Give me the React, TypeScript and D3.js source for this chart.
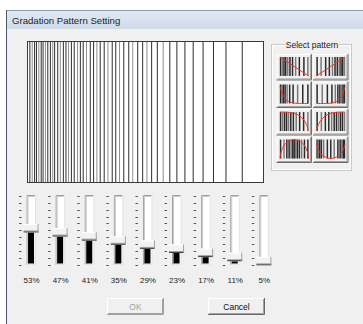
import React from 'react';
import * as d3 from 'd3';

// ---- data ----
const sliderValues = [53, 47, 41, 35, 29, 23, 17, 11, 5];
const sliderLabels = sliderValues.map((v) => `${v}%`);
const sliderTicks = [0, 10, 20, 30, 40, 50, 60, 70, 80, 90, 100];

// vertical lines of the gradation preview, position in % of the preview width
const patternLines = [
  0, 1.0, 2.0, 3.0, 3.8, 4.8, 5.8, 6.6, 7.6, 8.6, 9.7, 10.7, 11.5, 12.8, 13.9, 15.2, 16.3, 17.4,
  18.6, 19.8, 21.2, 22.4, 23.6, 25.0, 26.6, 28.0, 29.4, 30.8, 32.5, 34.1, 35.9, 37.4, 39.0, 40.8,
  42.9, 44.6, 46.7, 48.8, 50.6, 52.6, 55.0, 57.5, 60.3, 63.3, 66.7, 70.2, 74.4, 78.8, 84.1, 91.0, 100,
];

const patternNames = ['linearDown', 'linearUp', 'concaveDown', 'concaveUp', 'convexDown', 'convexUp', 'arch', 'bowl'];

// bar positions of each pattern icon (0..1 across the icon)
const iconBars: number[][] = [
  [0.02, 0.08, 0.14, 0.2, 0.27, 0.35, 0.44, 0.55, 0.68, 0.84, 0.98],
  [0.02, 0.16, 0.32, 0.45, 0.56, 0.65, 0.73, 0.8, 0.86, 0.92, 0.98],
  [0.02, 0.07, 0.12, 0.18, 0.25, 0.34, 0.46, 0.62, 0.8, 0.98],
  [0.02, 0.2, 0.38, 0.54, 0.66, 0.75, 0.82, 0.88, 0.93, 0.98],
  [0.02, 0.09, 0.16, 0.23, 0.3, 0.38, 0.47, 0.57, 0.69, 0.83, 0.98],
  [0.02, 0.17, 0.31, 0.43, 0.53, 0.62, 0.7, 0.77, 0.84, 0.91, 0.98],
  [0.02, 0.14, 0.24, 0.32, 0.39, 0.45, 0.5, 0.55, 0.61, 0.68, 0.76, 0.86, 0.98],
  [0.02, 0.06, 0.11, 0.17, 0.25, 0.38, 0.5, 0.62, 0.75, 0.83, 0.89, 0.94, 0.98],
];

// red curve of each pattern icon (x 0..1, y 0 = top .. 1 = bottom)
const iconCurves: [number, number][][] = [
  [[0, 0], [1, 1]],
  [[0, 1], [1, 0]],
  [[0, 0.1], [0.1, 0.55], [0.25, 0.85], [0.45, 0.97], [0.65, 1], [1, 1]],
  [[0, 1], [0.35, 1], [0.55, 0.97], [0.75, 0.85], [0.9, 0.55], [1, 0.1]],
  [[0, 0], [0.35, 0.02], [0.6, 0.12], [0.8, 0.35], [0.93, 0.65], [1, 1]],
  [[0, 1], [0.07, 0.65], [0.2, 0.35], [0.4, 0.12], [0.65, 0.02], [1, 0]],
  [[0, 1], [0.05, 0.6], [0.2, 0.2], [0.5, 0], [0.8, 0.2], [0.95, 0.6], [1, 1]],
  [[0, 0.25], [0.1, 0.65], [0.3, 0.92], [0.5, 1], [0.7, 0.92], [0.9, 0.65], [1, 0.25]],
];

const W = 363;
const H = 324;
const UI_FONT = '"Liberation Sans", Arial, sans-serif';

function Raised({ x, y, w, h, dark = '#696969' }: { x: number; y: number; w: number; h: number; dark?: string }) {
  return (
    <g>
      <rect x={x} y={y} width={w} height={h} fill="#f0f0f0" />
      <path d={`M${x + 0.5},${y + h - 1}V${y + 0.5}H${x + w - 1}`} stroke="#ffffff" fill="none" />
      <path d={`M${x},${y + h - 0.5}H${x + w - 0.5}V${y}`} stroke={dark} fill="none" />
      <path d={`M${x + 1},${y + h - 1.5}H${x + w - 1.5}V${y + 1}`} stroke="#a0a0a0" fill="none" />
    </g>
  );
}

export default function App() {
  // preview
  const px = d3.scaleLinear().domain([0, 100]).range([27.5, 263.5]);
  const pTop = 41;
  const pBottom = 183;

  // sliders
  const sx = d3.scaleBand<string>().domain(sliderLabels).range([16.5, 16.5 + 29.1 * 9]);
  const sy = d3.scaleLinear().domain([0, 100]).range([264.5, 196]);

  // pattern buttons
  const bx = d3.scaleBand<number>().domain([0, 1]).range([276.5, 348.5]).paddingInner(0.03);
  const by = d3.scaleBand<number>().domain([0, 1, 2, 3]).range([54, 163]).paddingInner(0.04);

  const curveLine = (cx0: number, cy0: number, w: number, h: number) =>
    d3
      .line<[number, number]>()
      .x((d) => cx0 + d[0] * w)
      .y((d) => cy0 + d[1] * h)
      .curve(d3.curveCatmullRom.alpha(0.5));

  return (
    <svg width={W} height={H} style={{ position: 'absolute', left: 0, top: 0, background: '#ffffff' }}>
      <defs>
        <linearGradient id="tb" x1="0" y1="0" x2="0" y2="1">
          <stop offset="0" stopColor="#e2e9f2" />
          <stop offset="1" stopColor="#d0dbe8" />
        </linearGradient>
      </defs>
      {/* dialog window */}
      <rect x={6} y={10} width={W} height={H} fill="#f0f0f0" />
      <rect x={6} y={10} width={W} height={19} fill="url(#tb)" />
      <line x1={6} y1={10.5} x2={W} y2={10.5} stroke="#8d9cac" />
      <line x1={6.5} y1={10} x2={6.5} y2={H} stroke="#4f5a66" />
      <text x={12} y={24} fontFamily={UI_FONT} fontSize={9.6} fill="#1e1e1e">
        Gradation Pattern Setting
      </text>

      {/* gradation preview */}
      <rect x={27} y={pTop} width={237} height={pBottom - pTop} fill="#ffffff" />
      {patternLines.map((p, i) => (
        <line
          key={i}
          x1={px(p)}
          x2={px(p)}
          y1={pTop}
          y2={pBottom}
          stroke={i % 3 === 2 && p < 60 ? '#8e8e8e' : '#2e2e2e'}
          strokeWidth={1}
        />
      ))}
      <rect x={27.5} y={pTop + 0.5} width={236} height={pBottom - pTop - 1} fill="none" stroke="#3a3a3a" />

      {/* select pattern group */}
      <rect x={271.5} y={44.5} width={80} height={126} fill="none" stroke="#c8c8c8" />
      <rect x={272.5} y={45.5} width={78} height={124} fill="none" stroke="#ffffff" />
      <rect x={285} y={39} width={54} height={10} fill="#f0f0f0" />
      <text x={312} y={47.5} textAnchor="middle" fontFamily={UI_FONT} fontSize={8.5} fill="#222">
        Select pattern
      </text>
      {patternNames.map((name, i) => {
        const col = i % 2;
        const row = Math.floor(i / 2);
        const x0 = bx(col)!;
        const y0 = by(row)!;
        const w = bx.bandwidth();
        const h = by.bandwidth();
        const ix = x0 + 3.5;
        const iy = y0 + 3;
        const iw = w - 7;
        const ih = h - 7.5;
        return (
          <g key={name}>
            <Raised x={x0} y={y0} w={w} h={h} />
            {iconBars[i].map((b, j) => (
              <line
                key={j}
                x1={ix + b * iw}
                x2={ix + b * iw}
                y1={iy}
                y2={iy + ih}
                stroke={j % 3 === 1 ? '#7a7a7a' : '#2a2a2a'}
                strokeWidth={1.5}
              />
            ))}
            <path d={curveLine(ix, iy, iw, ih)(iconCurves[i]) || ''} fill="none" stroke="#f03030" strokeWidth={1} />
          </g>
        );
      })}

      {/* sliders */}
      {sliderValues.map((v, i) => {
        const cx = sx(sliderLabels[i])! + sx.bandwidth() / 2;
        const cy = sy(v);
        return (
          <g key={i}>
            {sliderTicks.map((t) => (
              <line key={t} x1={cx - 12} x2={cx - 9.5} y1={Math.round(sy(t)) + 0.5} y2={Math.round(sy(t)) + 0.5} stroke="#555" />
            ))}
            <rect x={cx - 4.5} y={195} width={9} height={70} fill="#ffffff" />
            <path d={`M${cx - 4},265V195.5H${cx + 4.5}`} stroke="#a0a0a0" fill="none" />
            <path d={`M${cx - 3},265V196.5H${cx + 3.5}`} stroke="#c8c8c8" fill="none" />
            <path d={`M${cx - 4},264.5H${cx + 4.5}V195`} stroke="#e3e3e3" fill="none" />
            <rect x={cx - 3} y={cy + 4.25} width={6} height={Math.max(0, 263.5 - cy - 4.25)} fill="#000000" />
            <rect x={cx - 7.5} y={cy - 4.25} width={15} height={8.5} fill="#f2f2f2" />
            <line x1={cx - 7.5} x2={cx + 7.5} y1={cy - 3.75} y2={cy - 3.75} stroke="#ffffff" />
            <line x1={cx - 7.5} x2={cx + 7.5} y1={cy + 2.75} y2={cy + 2.75} stroke="#a0a0a0" />
            <line x1={cx - 7.5} x2={cx + 7.5} y1={cy + 3.75} y2={cy + 3.75} stroke="#3c3c3c" />
            <line x1={cx + 7} x2={cx + 7} y1={cy - 4.25} y2={cy + 4.25} stroke="#a0a0a0" />
            <text x={cx + 0.5} y={283} textAnchor="middle" fontFamily={UI_FONT} fontSize={8} fill="#222">
              {sliderLabels[i]}
            </text>
          </g>
        );
      })}

      {/* buttons */}
      <Raised x={107} y={298} w={57} h={17} dark="#a0a0a0" />
      <text x={135.5} y={309.5} textAnchor="middle" fontFamily={UI_FONT} fontSize={8.5} fill="#a0a0a0">
        OK
      </text>
      <Raised x={208} y={298} w={57} h={17} />
      <text x={236.5} y={309.5} textAnchor="middle" fontFamily={UI_FONT} fontSize={8.5} fill="#111">
        Cancel
      </text>
    </svg>
  );
}
